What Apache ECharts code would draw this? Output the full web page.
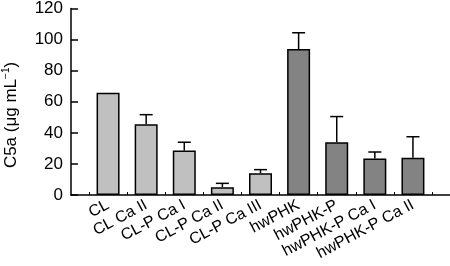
<!DOCTYPE html>
<html><head><meta charset="utf-8">
<script src="https://cdn.jsdelivr.net/npm/echarts@6/dist/echarts.min.js"></script>
<style>html,body{margin:0;padding:0;background:#fff}#c{width:450px;height:266px}</style>
</head><body><div id="c"></div>
<script>
var categories = ['CL','CL Ca II','CL-P Ca I','CL-P Ca II','CL-P Ca III','hwPHK','hwPHK-P','hwPHK-P Ca I','hwPHK-P Ca II'];
var means = [65, 45, 28.2, 5, 13.8, 92.7, 33.5, 23.2, 23.6];
var errTops = [null, 51, 33.5, 7.4, 16.1, 103, 49.8, 27.3, 37];
var groupColors = ['#c0c0c0','#c0c0c0','#c0c0c0','#c0c0c0','#c0c0c0','#838383','#838383','#838383','#838383'];
var yTicks = [0, 20, 40, 60, 80, 100, 120];

var FONT = 'Arial';
var chart = echarts.init(document.getElementById('c'), null, {renderer:'canvas'});
var errData = [];
for (var i = 0; i < categories.length; i++) {
  if (errTops[i] != null) errData.push([i, means[i], errTops[i]]);
}
chart.setOption({
  animation: false,
  grid: [
    {left: 71, right: 0, top: 6, bottom: 71},
    {left: 89, right: 18, top: 6, bottom: 71}
  ],
  xAxis: [
    {gridIndex: 0, type: 'value', min: 0, max: 1, axisLine: {show: true, lineStyle: {color: '#000', width: 1.5}},
     axisTick: {show: false}, axisLabel: {show: false}, splitLine: {show: false}},
    {gridIndex: 1, type: 'category', data: categories, boundaryGap: true,
     axisLine: {show: false},
     axisTick: {show: true, inside: true, length: 3, alignWithLabel: false, lineStyle: {color: '#000', width: 1}},
     axisLabel: {rotate: 28, interval: 0, margin: 9, color: '#000', fontSize: 16, fontFamily: FONT},
     splitLine: {show: false}}
  ],
  yAxis: [
    {gridIndex: 0, type: 'value', min: yTicks[0], max: yTicks[yTicks.length-1], interval: 20,
     axisLine: {show: true, lineStyle: {color: '#000', width: 1.5}},
     axisTick: {show: true, inside: true, length: 7, lineStyle: {color: '#000', width: 1.5}},
     axisLabel: {color: '#000', fontSize: 17, fontFamily: FONT, margin: 8},
     splitLine: {show: false}},
    {gridIndex: 1, type: 'value', min: yTicks[0], max: yTicks[yTicks.length-1], show: false, splitLine: {show: false}}
  ],
  graphic: [{
    type: 'text', x: 11, y: 115, rotation: Math.PI/2,
    style: {
      text: '{n|C5a (μg mL}{s|−1}{n|)}',
      align: 'center', verticalAlign: 'middle',
      rich: {
        n: {fontSize: 17, fontFamily: FONT, fill: '#000'},
        s: {fontSize: 10, fontFamily: FONT, fill: '#000', verticalAlign: 'top', padding: [0,0,9,0]}
      }
    }
  }],
  series: [
    {type: 'bar', xAxisIndex: 1, yAxisIndex: 1, barWidth: 23,
     data: means.map(function(v, i){ return {value: v, itemStyle: {color: groupColors[i]}}; }),
     itemStyle: {borderColor: '#000', borderWidth: 1.5}, z: 2},
    {type: 'custom', xAxisIndex: 1, yAxisIndex: 1, z: 3,
     data: errData,
     renderItem: function(params, api) {
       var x = api.value(0);
       var p0 = api.coord([x, api.value(1)]);
       var p1 = api.coord([x, api.value(2)]);
       var hw = 6.5;
       var st = {stroke: '#000', lineWidth: 1.5};
       return {type: 'group', children: [
         {type: 'line', shape: {x1: p0[0], y1: p0[1], x2: p1[0], y2: p1[1]}, style: st},
         {type: 'line', shape: {x1: p1[0]-hw, y1: p1[1], x2: p1[0]+hw, y2: p1[1]}, style: st}
       ]};
     }}
  ]
});
</script></body></html>
